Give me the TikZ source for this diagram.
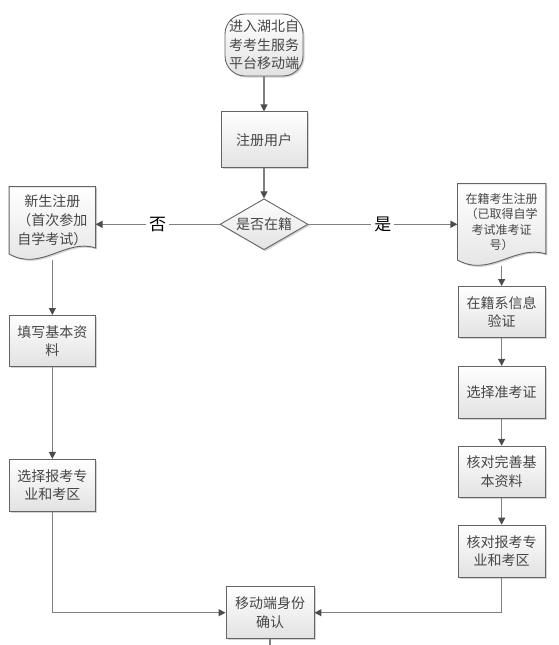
\documentclass[tikz,border=0pt]{standalone}
\usepackage{fontspec}
\setmainfont{Noto Sans CJK SC}
\usetikzlibrary{positioning, arrows.meta, shapes.geometric, shadows, backgrounds}

\definecolor{linegray}{RGB}{128,128,128}
\definecolor{boxgray}{RGB}{100,100,100}
\definecolor{boxshade}{RGB}{226,226,226}
\definecolor{txtgray}{RGB}{70,70,70}

\tikzset{
  flow/.style={draw=linegray, line width=1.2pt, -{Triangle[width=7pt,length=7pt,color=black!70]}},
  plain/.style={draw=linegray, line width=1.2pt},
  procbox/.style={rectangle, draw=boxgray, line width=0.9pt, top color=white, bottom color=boxshade,
    text=txtgray, align=center, minimum width=86pt, minimum height=52pt, inner sep=2pt,
    font=\fontsize{14}{18.5}\selectfont,
    drop shadow={shadow xshift=1.5pt, shadow yshift=-1.5pt, opacity=0.35}},
  termbox/.style={procbox, rounded corners=20pt, minimum width=78pt, minimum height=62pt},
  decision/.style={diamond, draw=boxgray, line width=0.9pt, top color=white, bottom color=boxshade,
    text=txtgray, shape aspect=1.9, minimum width=88pt, minimum height=51pt, inner sep=0pt,
    font=\fontsize{14}{18}\selectfont,
    drop shadow={shadow xshift=1.5pt, shadow yshift=-1.5pt, opacity=0.35}},
  docnode/.style={rectangle, text=txtgray, align=center, minimum width=86pt, inner sep=2pt,
    font=\fontsize{14}{19}\selectfont},
  docline/.style={draw=boxgray, line width=0.9pt, top color=white, bottom color=boxshade,
    drop shadow={shadow xshift=1.5pt, shadow yshift=-1.5pt, opacity=0.35}},
  answer/.style={fill=white, text=black, font=\fontsize{17}{17}\selectfont, inner sep=3pt}
}

% document shape with a wavy bottom, drawn round a plain node
\newcommand{\docwave}[1]{%
  \path[docline] (#1.north west) -- (#1.north east) -- ([yshift=6pt]#1.south east)
    .. controls ([xshift=-30pt,yshift=16pt]#1.south east) and ([xshift=32pt,yshift=-18pt]#1.south west)
    .. (#1.south west) -- cycle;}

\begin{document}
\begin{tikzpicture}
  \useasboundingbox (0,0) rectangle (558pt,-645pt);

  \node[termbox] (start) at (264pt,-45pt) {进入湖北自\\考考生服务\\平台移动端};
  \node[procbox, below=35pt of start, minimum height=56pt] (reg) {注册用户};
  \node[decision, below=30pt of reg] (dia) {是否在籍};

  % left branch
  \node[docnode, left=124pt of dia, yshift=4pt, minimum height=67pt] (ldoc) {新生注册\\（首次参加\\自学考试）};
  \node[procbox, below=61pt of ldoc, minimum height=51pt] (lfill) {填写基本资\\料};
  \node[procbox, below=92pt of lfill] (lsel) {选择报考专\\业和考区};

  % right branch
  \node[docnode, right=149pt of dia, yshift=2.5pt, minimum width=88pt, minimum height=76pt,
    font=\fontsize{12}{15.5}\selectfont] (rdoc) {在籍考生注册\\（已取得自学\\考试准考证\\号）};
  \node[procbox, below=26pt of rdoc, minimum width=87pt, minimum height=51pt] (rver) {在籍系信息\\验证};
  \node[procbox, below=28pt of rver, minimum width=87pt] (rcard) {选择准考证};
  \node[procbox, below=27pt of rcard, minimum width=87pt, minimum height=51pt] (rbase) {核对完善基\\本资料};
  \node[procbox, below=27pt of rbase, minimum width=87pt] (rmaj) {核对报考专\\业和考区};

  \node[procbox, below=336pt of dia, xshift=6pt, minimum width=88pt] (confirm) {移动端身份\\确认};
  \coordinate[below=10pt of confirm] (out);

  \begin{pgfonlayer}{background}
    \docwave{ldoc}
    \docwave{rdoc}
  \end{pgfonlayer}

  \draw[flow] (start) -- (reg);
  \draw[flow] (reg) -- (dia);
  \draw[flow] (dia.west) -- (dia.west -| ldoc.east) node[answer, midway] {否};
  \draw[flow] (dia.east) -- (dia.east -| rdoc.west) node[answer, midway] {是};
  \draw[flow] ([yshift=-6pt]ldoc.south) -- (lfill);
  \draw[flow] (lfill) -- (lsel);
  \draw[flow] ([yshift=-6pt]rdoc.south) -- (rver);
  \draw[flow] (rver) -- (rcard);
  \draw[flow] (rcard) -- (rbase);
  \draw[flow] (rbase) -- (rmaj);
  \draw[flow] (lsel.south) |- (confirm.west);
  \draw[flow] (rmaj.south) |- (confirm.east);
  \draw[plain] (confirm.south) -- (out);
\end{tikzpicture}
\end{document}
